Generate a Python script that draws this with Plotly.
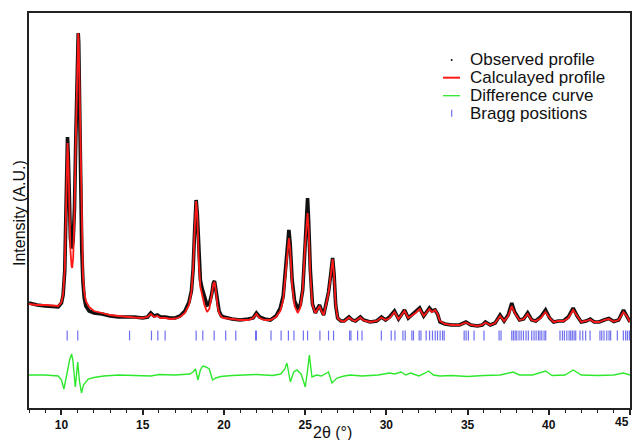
import plotly.graph_objects as go

# ---------------- data (intensity in arbitrary units) ----------------
two_theta = [8.0, 8.5, 9.0, 9.5, 9.8, 10.0, 10.1, 10.2, 10.28, 10.33, 10.37, 10.42, 10.48, 10.55,
             10.62, 10.66, 10.72, 10.8, 10.88, 10.95, 11.0, 11.03, 11.06, 11.12, 11.18, 11.25,
             11.32, 11.4, 11.5, 11.7, 12.0, 12.5, 13.0, 13.5, 14.0, 14.5, 15.0, 15.3, 15.5, 15.7,
             15.9, 16.1, 16.4, 16.7, 17.0, 17.3, 17.6, 17.85, 18.0, 18.1, 18.2, 18.29, 18.36,
             18.45, 18.55, 18.65, 18.8, 18.96, 19.1, 19.25, 19.35, 19.42, 19.5, 19.6, 19.7, 19.85,
             20.0, 20.5, 21.0, 21.5, 21.8, 22.0, 22.2, 22.5, 22.86, 23.2, 23.47, 23.65, 23.8,
             23.92, 24.0, 24.08, 24.2, 24.35, 24.54, 24.7, 24.85, 25.0, 25.1, 25.15, 25.22, 25.32,
             25.45, 25.63, 25.78, 25.89, 26.0, 26.14, 26.3, 26.44, 26.58, 26.69, 26.78, 26.88,
             27.0, 27.2, 27.4, 27.7, 27.9, 28.1, 28.4, 28.6, 29.0, 29.4, 29.7, 29.95, 30.2, 30.5,
             30.75, 31.0, 31.12, 31.35, 31.55, 31.8, 32.05, 32.3, 32.5, 32.65, 32.8, 33.0, 33.15,
             33.3, 33.6, 34.0, 34.5, 34.9, 35.2, 35.6, 35.9, 36.1, 36.4, 36.7, 37.0, 37.25, 37.5,
             37.72, 37.9, 38.2, 38.45, 38.7, 38.95, 39.2, 39.5, 39.8, 40.05, 40.3, 40.6, 40.9,
             41.2, 41.5, 41.75, 42.0, 42.3, 42.55, 42.8, 43.1, 43.4, 43.7, 44.0, 44.3, 44.6, 44.8,
             45.0]

calculated = [104, 103, 103, 102, 102, 106, 114, 138, 188, 238, 265, 248, 193, 158,
              142, 140, 150, 193, 268, 338, 370, 375, 368, 308, 228, 168,
              133, 116, 107, 101, 97, 95, 93, 92, 91, 90.5, 90, 91, 94, 91,
              92, 90, 90, 89, 89.5, 91, 95, 103, 116, 138, 178, 207, 193,
              148, 121, 113, 103, 96, 99, 113, 124, 126, 118, 103, 95, 91,
              90, 89, 88, 88, 90, 94, 90, 88, 88, 91, 97, 108, 133,
              160, 170, 158, 123, 102, 95, 100, 118, 163, 193, 195, 178, 133,
              103, 95, 99, 102, 97, 93, 104, 115, 133, 149, 133, 103,
              90, 87, 86.5, 90.5, 88, 87, 90.5, 87.5, 86, 87, 90.5, 88, 90, 96,
              89, 95, 97, 90, 92, 95, 99, 92, 96, 99, 96, 98, 94,
              87, 84, 83, 83, 85.5, 83, 82, 83, 85.5, 83, 85, 92, 87, 92,
              102, 95, 88, 89, 94, 88, 87, 90, 96, 90, 86, 87, 87,
              90, 98, 92, 86, 87, 88.5, 86, 86, 88, 89, 86.5, 88, 96, 92,
              86]

observed = [105, 103, 102, 101, 101, 105, 113, 137, 190, 245, 271, 252, 200, 170,
            160, 161, 168, 200, 268, 338, 370, 375, 366, 300, 218, 158,
            126, 110, 102, 97, 95, 94, 92, 91, 91, 91, 90, 91, 95, 92,
            93, 91, 91, 90, 90, 92, 97, 106, 117, 138, 178, 208, 195,
            152, 128, 120, 110, 103, 104, 114, 125, 127, 119, 105, 97, 92,
            91, 89, 88, 89, 90, 95, 91, 89, 88, 92, 100, 112, 140,
            170, 178, 164, 128, 107, 100, 103, 118, 163, 205, 210, 185, 138,
            104, 95, 100, 103, 98, 93, 105, 116, 134, 150, 134, 103,
            90, 87, 87, 91, 88, 87, 91, 88, 86, 87, 91, 88, 91, 97,
            89, 96, 98, 90, 93, 96, 100, 92, 97, 100, 97, 98, 94,
            86, 84, 83, 83, 86, 83, 82, 83, 86, 83, 85, 93, 87, 93,
            105, 96, 88, 89, 95, 88, 87, 91, 98, 90, 86, 87, 87,
            91, 100, 92, 86, 87, 89, 86, 86, 88, 89.5, 86.5, 88, 98, 92,
            86]

diff_theta = [8.0, 9.0, 9.8, 10.0, 10.15, 10.3, 10.5, 10.62, 10.7, 10.85, 10.95, 11.0, 11.1,
              11.23, 11.35, 11.65, 12.0, 12.6, 13.5, 15.5, 16.0, 17.0, 17.9, 18.1, 18.25,
              18.4, 18.55, 18.7, 18.9, 19.1, 19.3, 19.5, 19.8, 20.5, 22.0, 23.0, 23.5, 23.75,
              23.88, 24.09, 24.3, 24.5, 24.75, 25.01, 25.15, 25.26, 25.42, 25.7, 26.0, 26.44,
              26.65, 26.96, 27.4, 27.78, 28.5, 29.5, 30.2, 30.5, 30.9, 31.2, 31.5, 32.0, 32.4,
              32.6, 32.9, 33.3, 34.0, 35.0, 36.0, 37.0, 37.8, 38.2, 39.0, 39.8, 40.2, 41.0,
              41.5, 42.0, 43.0, 44.0, 44.6, 45.0]
difference = [33, 33, 32, 28, 19, 33, 48, 54, 48, 21, 43, 46, 28,
              15, 23, 29, 30.5, 32, 33, 32, 33.5, 33, 34, 36, 39,
              28, 38, 42, 41, 39, 28, 30, 31.5, 32.5, 33.5, 32.5, 34, 39,
              45, 26, 36, 38, 34, 21, 38, 53, 31, 33, 32, 36,
              25, 30, 32, 33, 32, 33, 35, 34, 36, 33, 35, 32, 35,
              37, 33, 32, 32.5, 31.5, 32.5, 33, 36, 33, 33, 37, 32.5, 33,
              38, 33, 32.5, 33, 35, 33]

bragg_positions = [10.35, 11.0, 14.19, 15.54, 15.93, 16.38, 18.29, 18.70, 19.40, 20.11, 20.73,
                   21.95, 22.0, 22.90, 23.52, 23.97, 24.31, 24.89, 25.15, 25.91, 26.44, 26.75,
                   27.74, 27.82, 28.23, 28.50, 29.69, 30.30, 30.53, 31.02, 31.16, 31.57, 31.67,
                   32.02, 32.13, 32.45, 32.66, 32.84, 33.01, 33.15, 33.31, 33.46, 33.56, 34.79,
                   34.91, 35.05, 35.40, 36.01, 36.94, 37.06, 37.72, 37.82, 37.93, 38.03, 38.17,
                   38.30, 38.44, 38.60, 38.74, 38.95, 39.09, 39.22, 39.36, 39.46, 39.57, 39.71,
                   39.81, 40.69, 40.84, 40.96, 41.11, 41.25, 41.35, 41.45, 41.56, 41.66, 41.92,
                   42.09, 42.27, 42.54, 43.15, 43.26, 43.40, 43.57, 43.71, 43.81, 44.22, 44.59,
                   44.73, 44.84, 44.96]
bragg_level = 72.5

x_tick_values = [10, 15, 20, 25, 30, 35, 40, 45]
x_tick_labels = ["10", "15", "20", "25", "30", "35", "40", ""]
last_tick_label = "45"

legend_labels = ["Observed profile", "Calculayed profile", "Difference curve", "Bragg positions"]

# ---------------- colours ----------------
C_OBS = "#111111"
C_CALC = "#ff1a1a"
C_DIFF = "#2ee82e"
C_BRAGG = "#7070ee"
FONT = "Liberation Sans, Arial, sans-serif"

fig = go.Figure()

fig.add_trace(go.Scatter(x=two_theta, y=observed, mode="lines", name=legend_labels[0],
                         line=dict(color=C_OBS, width=3.6), showlegend=False))
fig.add_trace(go.Scatter(x=two_theta, y=calculated, mode="lines", name=legend_labels[1],
                         line=dict(color=C_CALC, width=1.8), showlegend=False))
fig.add_trace(go.Scatter(x=diff_theta, y=difference, mode="lines", name=legend_labels[2],
                         line=dict(color=C_DIFF, width=1.4), showlegend=False))
fig.add_trace(go.Scatter(x=bragg_positions, y=[bragg_level] * len(bragg_positions), mode="markers",
                         name=legend_labels[3],
                         marker=dict(symbol="line-ns", size=7, line=dict(color=C_BRAGG, width=1.2)),
                         showlegend=False))

# ---------------- manual legend (paper coordinates) ----------------
L = 29; R = 630; T = 13; B = 408
W = R - L; H = B - T
def px(xp):
    return (xp - L) / W
def py(yp):
    return (B - yp) / H

rows = [60, 77.7, 95.7, 113.3]
sym_x = 451.7
for lab, yr in zip(legend_labels, rows):
    fig.add_annotation(x=px(470), y=py(yr), xref="paper", yref="paper", text=lab,
                       showarrow=False, xanchor="left", yanchor="middle",
                       xshift=-2,
                       font=dict(family=FONT, size=17, color="#111"))
shapes = [
    dict(type="circle", xref="paper", yref="paper", x0=px(sym_x - 1), x1=px(sym_x + 1),
         y0=py(rows[0] + 1), y1=py(rows[0] - 1), fillcolor=C_OBS, line=dict(width=0)),
    dict(type="line", xref="paper", yref="paper", x0=px(443), x1=px(460), y0=py(rows[1]),
         y1=py(rows[1]), line=dict(color=C_CALC, width=2)),
    dict(type="line", xref="paper", yref="paper", x0=px(443), x1=px(460), y0=py(rows[2]),
         y1=py(rows[2]), line=dict(color=C_DIFF, width=1.3)),
    dict(type="line", xref="paper", yref="paper", x0=px(sym_x), x1=px(sym_x), y0=py(rows[3] - 3.5),
         y1=py(rows[3] + 3.5), line=dict(color=C_BRAGG, width=1.2)),
]
fig.update_layout(shapes=shapes)

# last tick label pulled inside the canvas (as in the reference)
fig.add_annotation(x=x_tick_values[-1], y=py(413), xref="x", yref="paper", text=last_tick_label,
                   showarrow=False, xanchor="right", yanchor="top", xshift=1,
                   font=dict(family=FONT, size=12, weight="bold", color="#111"))

# axis titles as annotations for exact placement
fig.add_annotation(x=px(332), y=py(440), xref="paper", yref="paper", text="2θ (°)",
                   showarrow=False, xanchor="center", yanchor="bottom", borderpad=0,
                   yshift=-2,
                   font=dict(family=FONT, size=16, color="#111"))
fig.add_annotation(x=px(19), y=py(213), xref="paper", yref="paper", text="Intensity (A.U.)",
                   showarrow=False, xanchor="center", yanchor="middle", textangle=-90,
                   font=dict(family=FONT, size=16, color="#111"))

fig.update_layout(
    width=636, height=440,
    margin=dict(l=L, r=636 - R, t=T, b=440 - B, autoexpand=False),
    paper_bgcolor="white", plot_bgcolor="white",
    showlegend=False,
    font=dict(family=FONT, color="#111"),
    xaxis=dict(range=[8, 45], tickmode="array", tickvals=x_tick_values, ticktext=x_tick_labels,
               ticks="outside", ticklen=5, tickwidth=1.5, tickcolor="#222",
               minor=dict(tickmode="linear", dtick=1, tick0=8, ticks="outside", ticklen=3,
                          tickwidth=1, tickcolor="#222"),
               showgrid=False, zeroline=False, automargin=False,
               showline=True, linecolor="#222", linewidth=2, mirror=True,
               tickfont=dict(size=12, weight="bold", color="#111")),
    yaxis=dict(range=[0, 395], showticklabels=False, ticks="", showgrid=False, zeroline=False,
               automargin=False,
               showline=True, linecolor="#222", linewidth=2, mirror=True),
)

fig.write_html("out.html", config={"displayModeBar": False},
               post_script="document.body.style.margin='0';document.body.style.overflow='hidden';")
